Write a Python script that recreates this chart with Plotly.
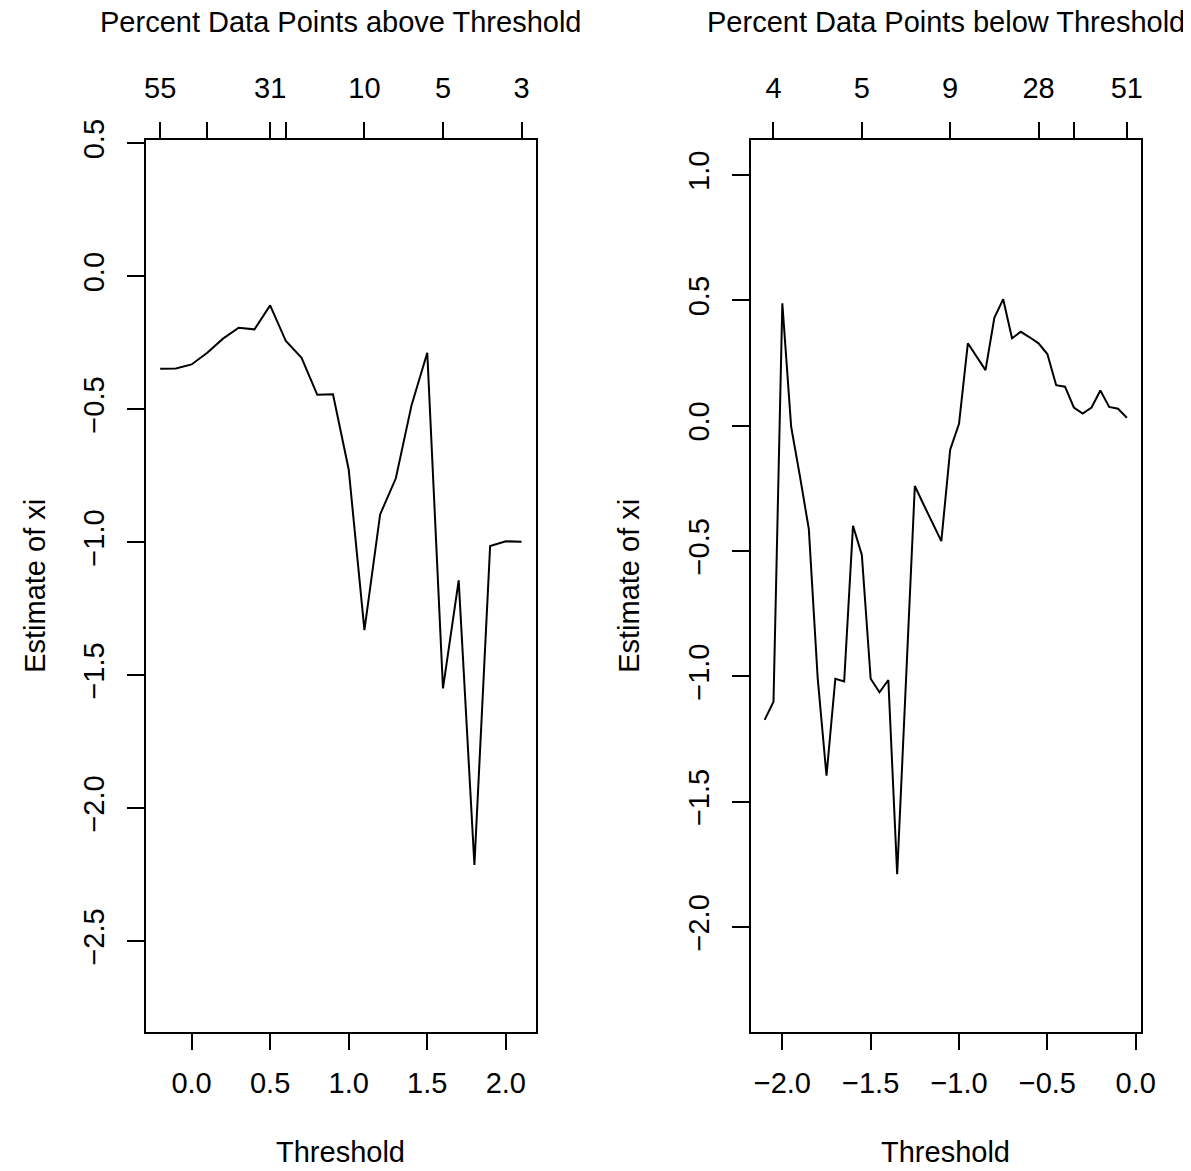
import plotly.graph_objects as go

# upper tail: thresholds and shape estimates
thresh_upper = [-0.2, -0.1, 0.0, 0.1, 0.2, 0.3, 0.4, 0.5, 0.6, 0.7, 0.8, 0.9,
                1.0, 1.1, 1.2, 1.3, 1.4, 1.5, 1.6, 1.7, 1.8, 1.9, 2.0, 2.1]
xi_upper = [-0.347, -0.346, -0.331, -0.287, -0.234, -0.193, -0.199, -0.109,
            -0.243, -0.306, -0.445, -0.443, -0.726, -1.330, -0.895, -0.759,
            -0.484, -0.287, -1.549, -1.143, -2.213, -1.014, -0.996, -0.998]
upper_top_vals = [-0.2, 0.1, 0.5, 0.6, 1.1, 1.6, 2.1]
upper_top_text = ["55", "", "31", "", "10", "5", "3"]

# lower tail
thresh_lower = [-2.10, -2.05, -2.00, -1.95, -1.90, -1.85, -1.80, -1.75, -1.70,
                -1.65, -1.60, -1.55, -1.50, -1.45, -1.40, -1.35, -1.30, -1.25,
                -1.20, -1.15, -1.10, -1.05, -1.00, -0.95, -0.90, -0.85, -0.80,
                -0.75, -0.70, -0.65, -0.60, -0.55, -0.50, -0.45, -0.40, -0.35,
                -0.30, -0.25, -0.20, -0.15, -0.10, -0.05]
xi_lower = [-1.173, -1.101, 0.489, -0.004, -0.203, -0.412, -1.005, -1.396,
            -1.009, -1.020, -0.399, -0.515, -1.009, -1.063, -1.014, -1.789,
            -1.015, -0.240, -0.315, -0.388, -0.460, -0.095, 0.008, 0.329,
            0.275, 0.222, 0.431, 0.505, 0.349, 0.375, 0.353, 0.329, 0.286,
            0.162, 0.156, 0.073, 0.049, 0.073, 0.141, 0.075, 0.068, 0.032]
lower_top_vals = [-2.05, -1.55, -1.05, -0.55, -0.35, -0.05]
lower_top_text = ["4", "5", "9", "28", "", "51"]

FONT = "Liberation Sans, Arial, Helvetica, sans-serif"
FS = 29
W, H = 1191, 1171
OFF = 8  # page margin around the plot div

fig = go.Figure()
fig.add_trace(go.Scatter(x=thresh_upper, y=xi_upper, mode="lines",
                         line=dict(color="black", width=2),
                         xaxis="x", yaxis="y", showlegend=False))
fig.add_trace(go.Scatter(x=thresh_lower, y=xi_lower, mode="lines",
                         line=dict(color="black", width=2),
                         xaxis="x2", yaxis="y2", showlegend=False))
# dummy traces so the top axes get drawn
fig.add_trace(go.Scatter(x=[None], y=[None], xaxis="x3", yaxis="y", showlegend=False))
fig.add_trace(go.Scatter(x=[None], y=[None], xaxis="x4", yaxis="y2", showlegend=False))


def px_x(p):
    return (p - OFF) / W


def px_y(p):
    return 1 - (p - OFF) / H


dom_l = [px_x(145.7), px_x(536)]
dom_r = [px_x(750.7), px_x(1141)]
dom_y = [px_y(1031.7), px_y(140)]

common = dict(showgrid=False, zeroline=False, ticks="outside", ticklen=17,
              tickwidth=1.5, tickcolor="black", linecolor="black", linewidth=1.5,
              automargin=False,
              tickfont=dict(family=FONT, size=FS, color="black"))

fig.update_layout(
    width=W, height=H,
    margin=dict(l=0, r=0, t=0, b=0),
    paper_bgcolor="white", plot_bgcolor="white",
    font=dict(family=FONT, size=FS, color="black"),
    xaxis=dict(domain=dom_l, range=[-0.292, 2.192], anchor="y",
               tickvals=[0.0, 0.5, 1.0, 1.5, 2.0], ticktext=["0.0", "0.5", "1.0", "1.5", "2.0"],
               showline=True, mirror=True, ticklabelstandoff=8, **common),
    yaxis=dict(domain=dom_y, range=[-2.84, 0.513], anchor="x",
               tickvals=[0.5, 0.0, -0.5, -1.0, -1.5, -2.0, -2.5],
               ticktext=["0.5", "0.0", "\u22120.5", "\u22121.0", "\u22121.5", "\u22122.0", "\u22122.5"],
               tickangle=-90, showline=True, mirror=True, ticklabelstandoff=11, **common),
    xaxis3=dict(domain=dom_l, range=[-0.292, 2.192], overlaying="x", side="top",
                anchor="y", tickvals=upper_top_vals, ticktext=upper_top_text,
                showline=False, ticklabelstandoff=12, **common),
    xaxis2=dict(domain=dom_r, range=[-2.179, 0.030], anchor="y2",
                tickvals=[-2.0, -1.5, -1.0, -0.5, 0.0],
                ticktext=["\u22122.0", "\u22121.5", "\u22121.0", "\u22120.5", "0.0"],
                showline=True, mirror=True, ticklabelstandoff=8, **common),
    yaxis2=dict(domain=dom_y, range=[-2.417, 1.140], anchor="x2",
                tickvals=[1.0, 0.5, 0.0, -0.5, -1.0, -1.5, -2.0],
                ticktext=["1.0", "0.5", "0.0", "\u22120.5", "\u22121.0", "\u22121.5", "\u22122.0"],
                tickangle=-90, showline=True, mirror=True, ticklabelstandoff=11, **common),
    xaxis4=dict(domain=dom_r, range=[-2.179, 0.030], overlaying="x2", side="top",
                anchor="y2", tickvals=lower_top_vals, ticktext=lower_top_text,
                showline=False, ticklabelstandoff=12, **common),
)

ann = dict(xref="paper", yref="paper", showarrow=False,
           xanchor="center", yanchor="middle",
           font=dict(family=FONT, size=FS, color="black"))
cx_l = sum(dom_l) / 2
cx_r = sum(dom_r) / 2
cy = sum(dom_y) / 2
fig.add_annotation(text="Threshold", x=cx_l, y=px_y(1152), **ann)
fig.add_annotation(text="Threshold", x=cx_r, y=px_y(1152), **ann)
fig.add_annotation(text="Percent Data Points above Threshold", x=cx_l, y=px_y(22), **ann)
fig.add_annotation(text="Percent Data Points below Threshold", x=cx_r, y=px_y(22), **ann)
fig.add_annotation(text="Estimate of xi", x=px_x(35), y=cy, textangle=-90, **ann)
fig.add_annotation(text="Estimate of xi", x=px_x(629), y=cy, textangle=-90, **ann)

fig.write_html("out.html")
